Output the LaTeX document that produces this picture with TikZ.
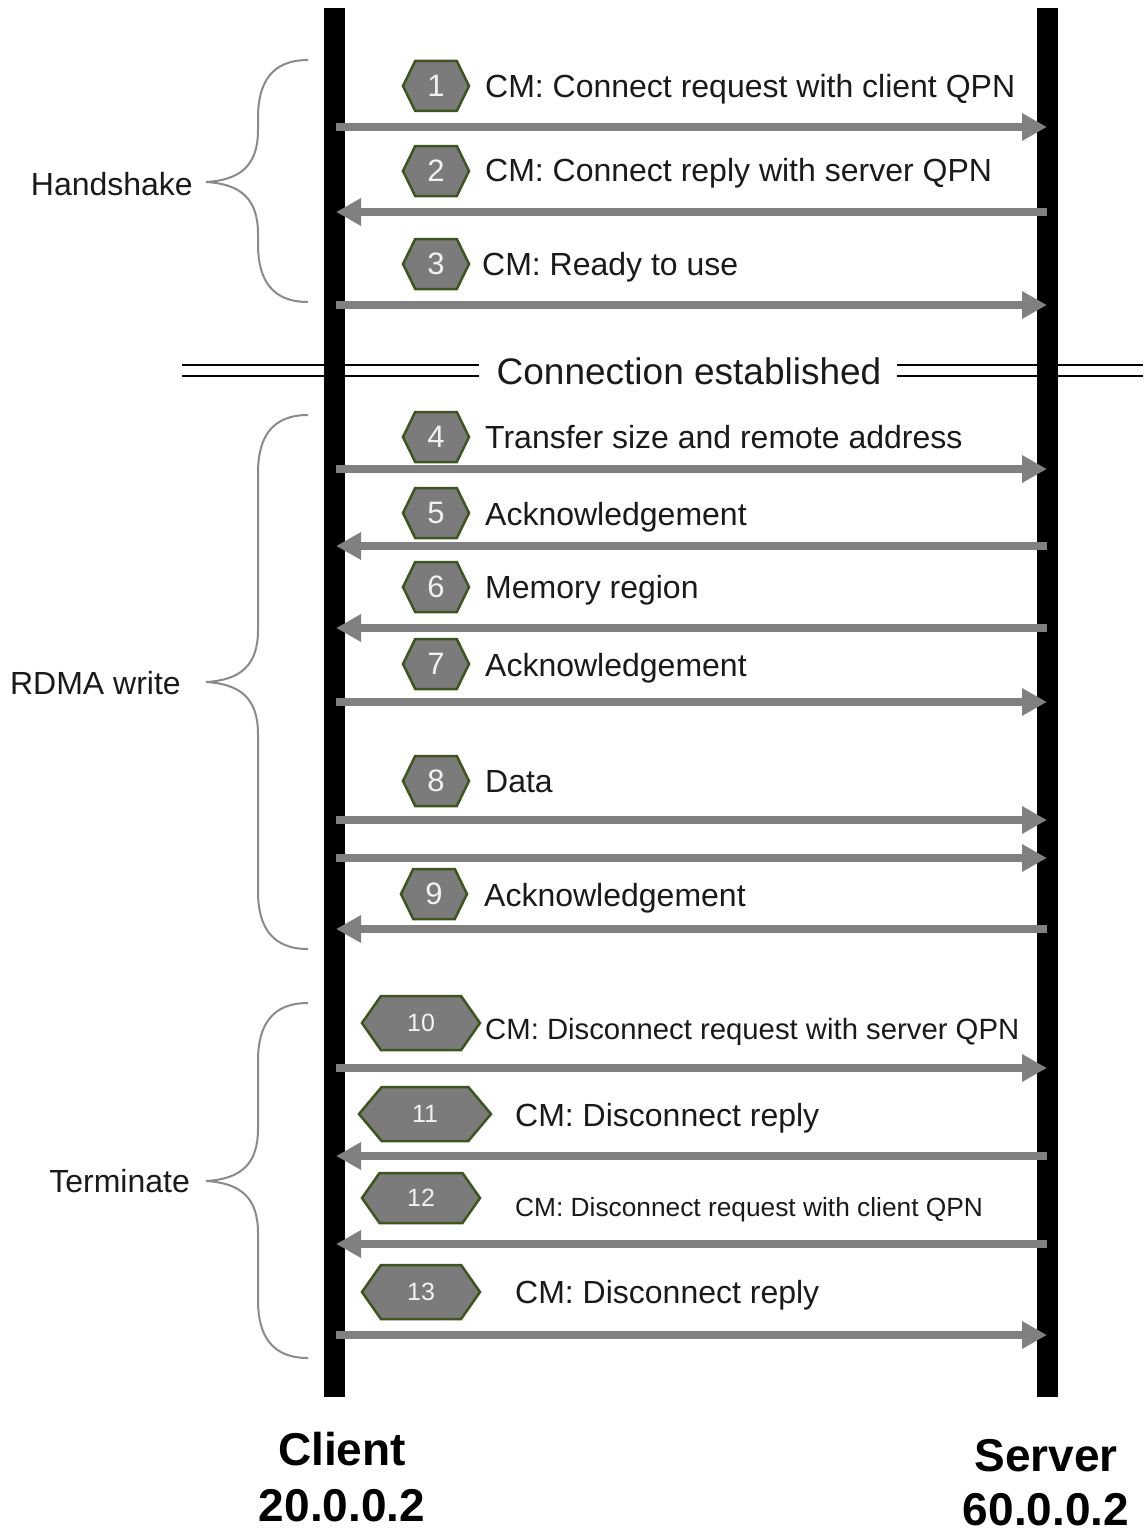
\documentclass[tikz,border=0pt]{standalone}
\usepackage{fontspec}
\setmainfont{Liberation Sans}
\usetikzlibrary{shapes.symbols,arrows.meta}

\definecolor{msggray}{HTML}{808080}
\definecolor{bracegray}{HTML}{8A8A8A}
\definecolor{hexfill}{HTML}{7B7B7B}
\definecolor{hexedge}{HTML}{3D5520}
\definecolor{hextext}{HTML}{F2F2F2}
\definecolor{ink}{HTML}{1A1A1A}

\tikzset{
  lifeline/.style={line width=21pt, black},
  msg/.style={draw=msggray, line width=8pt, -{Triangle[length=25pt,width=26pt]}},
  sepline/.style={line width=2.5pt, black},
  gbrace/.style={draw=bracegray, line width=2pt},
  hex/.style={signal, signal to=west and east, signal pointer angle=128,
    fill=hexfill, draw=hexedge, line width=2.5pt, inner sep=0pt,
    minimum width=66pt, minimum height=50pt, text=hextext,
    font=\fontsize{31}{31}\selectfont},
  hexwide/.style={hex, minimum width=118pt, minimum height=54pt,
    signal pointer angle=110, font=\fontsize{25}{25}\selectfont},
  lbl/.style={anchor=base west, inner sep=0pt, text=ink, font=\fontsize{32}{32}\selectfont},
  phase/.style={anchor=base east, inner sep=0pt, text=ink, font=\fontsize{32}{32}\selectfont},
  host/.style={anchor=base, inner sep=0pt, text=black, font=\fontsize{46}{46}\selectfont\bfseries},
}

\begin{document}
\begin{tikzpicture}[x=1pt,y=-1pt]
  \useasboundingbox[fill=white] (0,0) rectangle (1143,1536);

  % "Connection established" separator
  \draw[sepline] (182,365) -- (479,365) (182,376) -- (479,376);
  \draw[sepline] (897,365) -- (1143,365) (897,376) -- (1143,376);
  \node[anchor=base, inner sep=0pt, text=ink, font=\fontsize{37}{37}\selectfont]
    (est) at (689,384) {Connection established};

  % lifelines
  \coordinate (ctop) at (334,8);   \coordinate (cbot) at (334,1397);
  \coordinate (stop) at (1047,8);  \coordinate (sbot) at (1047,1397);
  \draw[lifeline] (ctop) -- (cbot);
  \draw[lifeline] (stop) -- (sbot);

  % message anchors on both lifelines
  \foreach \i/\y in {1/127,2/212,3/305,4/469,5/546,6/628,7/702,8/820,8b/858,
                     9/929,10/1068,11/1156,12/1244,13/1335} {
    \coordinate (c\i) at (336,\y);
    \coordinate (s\i) at (1047,\y);
  }

  % client -> server
  \foreach \i in {1,3,4,7,8,8b,10,13} \draw[msg] (c\i) -- (s\i);
  % server -> client
  \foreach \i in {2,5,6,9,11,12} \draw[msg] (s\i) -- (c\i);

  % step markers
  \node[hex] (h1) at (436,86)  {1};
  \node[hex] (h2) at (436,171) {2};
  \node[hex] (h3) at (436,264) {3};
  \node[hex] (h4) at (436,437) {4};
  \node[hex] (h5) at (436,513) {5};
  \node[hex] (h6) at (436,587) {6};
  \node[hex] (h7) at (436,664) {7};
  \node[hex] (h8) at (436,781) {8};
  \node[hex] (h9) at (434,894) {9};
  \node[hexwide] (h10) at (421,1023) {10};
  \node[hexwide, minimum width=132pt, signal pointer angle=100] (h11) at (425,1114) {11};
  \node[hexwide, minimum height=50pt] (h12) at (421,1198) {12};
  \node[hexwide] (h13) at (421,1292) {13};

  % message texts
  \node[lbl] (t1) at (485,98)  {CM: Connect request with client QPN};
  \node[lbl] (t2) at (485,181) {CM: Connect reply with server QPN};
  \node[lbl] (t3) at (482,275) {CM: Ready to use};
  \node[lbl] (t4) at (485,448) {Transfer size and remote address};
  \node[lbl] (t5) at (485,525) {Acknowledgement};
  \node[lbl] (t6) at (485,598) {Memory region};
  \node[lbl] (t7) at (485,676) {Acknowledgement};
  \node[lbl] (t8) at (485,792) {Data};
  \node[lbl] (t9) at (484,906) {Acknowledgement};
  \node[lbl, font=\fontsize{29.3}{29.3}\selectfont] (t10) at (485,1039) {CM: Disconnect request with server QPN};
  \node[lbl] (t11) at (515,1126) {CM: Disconnect reply};
  \node[lbl, font=\fontsize{26.3}{26.3}\selectfont] (t12) at (515,1216) {CM: Disconnect request with client QPN};
  \node[lbl] (t13) at (515,1303) {CM: Disconnect reply};

  % phase braces
  \foreach \a/\m/\b in {60/182/302, 415/682/949, 1003/1181/1358} {
    \draw[gbrace] (308,\a) .. controls (272,\a) and (258,{\a+22}) .. (258,{\a+58})
      -- (258,{\m-52}) .. controls (258,{\m-17}) and (241,{\m-2}) .. (206,\m)
      .. controls (241,{\m+2}) and (258,{\m+17}) .. (258,{\m+52})
      -- (258,{\b-58}) .. controls (258,{\b-22}) and (272,\b) .. (308,\b);
  }
  \node[phase] (p1) at (193,195)  {Handshake};
  \node[phase] (p2) at (181,694)  {RDMA write};
  \node[phase] (p3) at (190,1192) {Terminate};

  % hosts
  \node[host] (client) at (342,1465) {Client};
  \node[host] (cip)    at (342,1521) {20.0.0.2};
  \node[host] (server) at (1046,1471) {Server};
  \node[host] (sip)    at (1046,1525) {60.0.0.2};
\end{tikzpicture}
\end{document}
